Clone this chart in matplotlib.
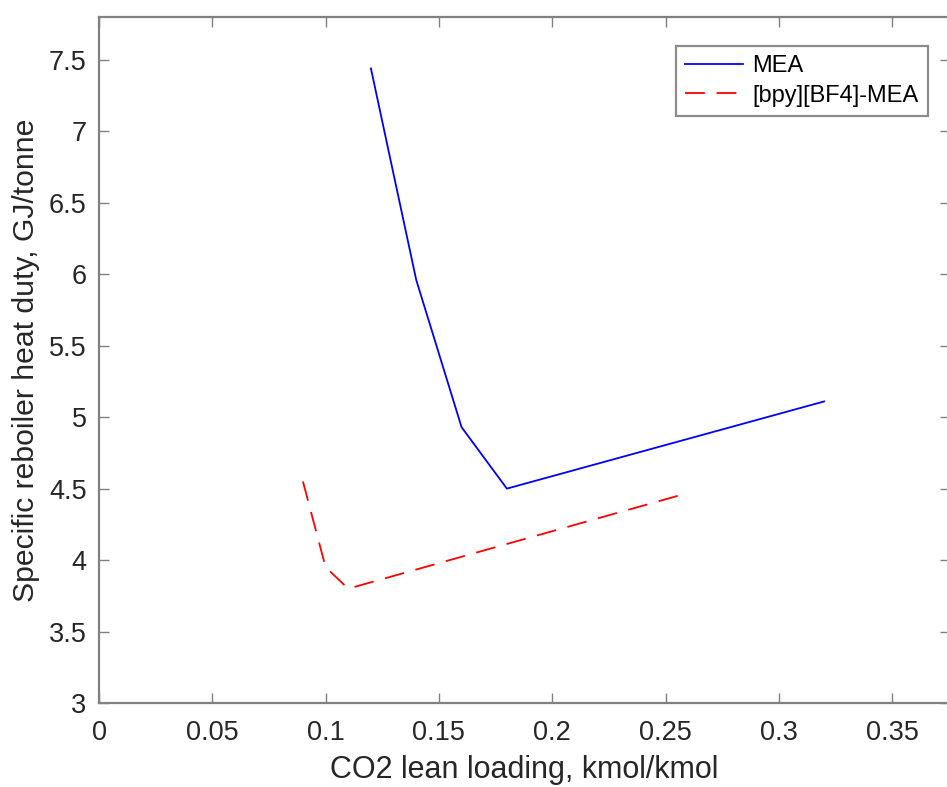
import numpy as np
import matplotlib
matplotlib.use('Agg')
import matplotlib.pyplot as plt

# data
mea_x = [0.12, 0.14, 0.16, 0.18, 0.32]
mea_y = [7.44, 5.96, 4.93, 4.50, 5.11]
il_x = [0.09, 0.10, 0.11, 0.26]
il_y = [4.55, 3.95, 3.80, 4.47]
labels = ['MEA', '[bpy][BF4]-MEA']
xticks = [0, 0.05, 0.1, 0.15, 0.2, 0.25, 0.3, 0.35]
yticks = [3, 3.5, 4, 4.5, 5, 5.5, 6, 6.5, 7, 7.5]

plt.rcParams['font.family'] = ['Liberation Sans', 'DejaVu Sans']

W, H = 947, 787
fig = plt.figure(figsize=(W/100., H/100.), dpi=100)
# right side of the axes is cut off in the reference
x0, x1, y0, y1 = 99, 950, 703, 17
ax = fig.add_axes([x0/W, 1-y0/H, (x1-x0)/W, (y0-y1)/H])

ax.plot(mea_x, mea_y, color='b', lw=1.3, label=labels[0])
ax.plot(il_x, il_y, color='r', lw=1.3, dashes=(11, 6.5), label=labels[1])

ax.set_xlim(0, (x1-x0)/2266.)
ax.set_ylim(3, 7.8)
ax.set_xticks(xticks)
ax.set_xticklabels(['%g' % t for t in xticks])
ax.set_yticks(yticks)
ax.set_yticklabels(['%g' % t for t in yticks])
ax.tick_params(direction='in', length=7, width=1, colors='#808080', labelcolor='#262626',
               labelsize=19.5, top=True, right=True, pad=9)
ax.tick_params(axis='x', pad=12)
for s in ax.spines.values():
    s.set_color('#808080')
    s.set_linewidth(1.6)

ax.set_xlabel('CO2 lean loading, kmol/kmol', fontsize=22, color='#262626', labelpad=7)
ax.set_ylabel('Specific reboiler heat duty, GJ/tonne', fontsize=21.7, color='#262626', labelpad=6)

leg = ax.legend(loc='upper right', bbox_to_anchor=(928/W, 1-46/H), bbox_transform=fig.transFigure,
                fontsize=17, fancybox=False, handlelength=2.45, handletextpad=0.4,
                labelspacing=0.3, borderpad=0.4, borderaxespad=0)
leg.get_frame().set_edgecolor('#707070')
leg.get_frame().set_linewidth(1.6)

plt.savefig('out.png', dpi=100)
